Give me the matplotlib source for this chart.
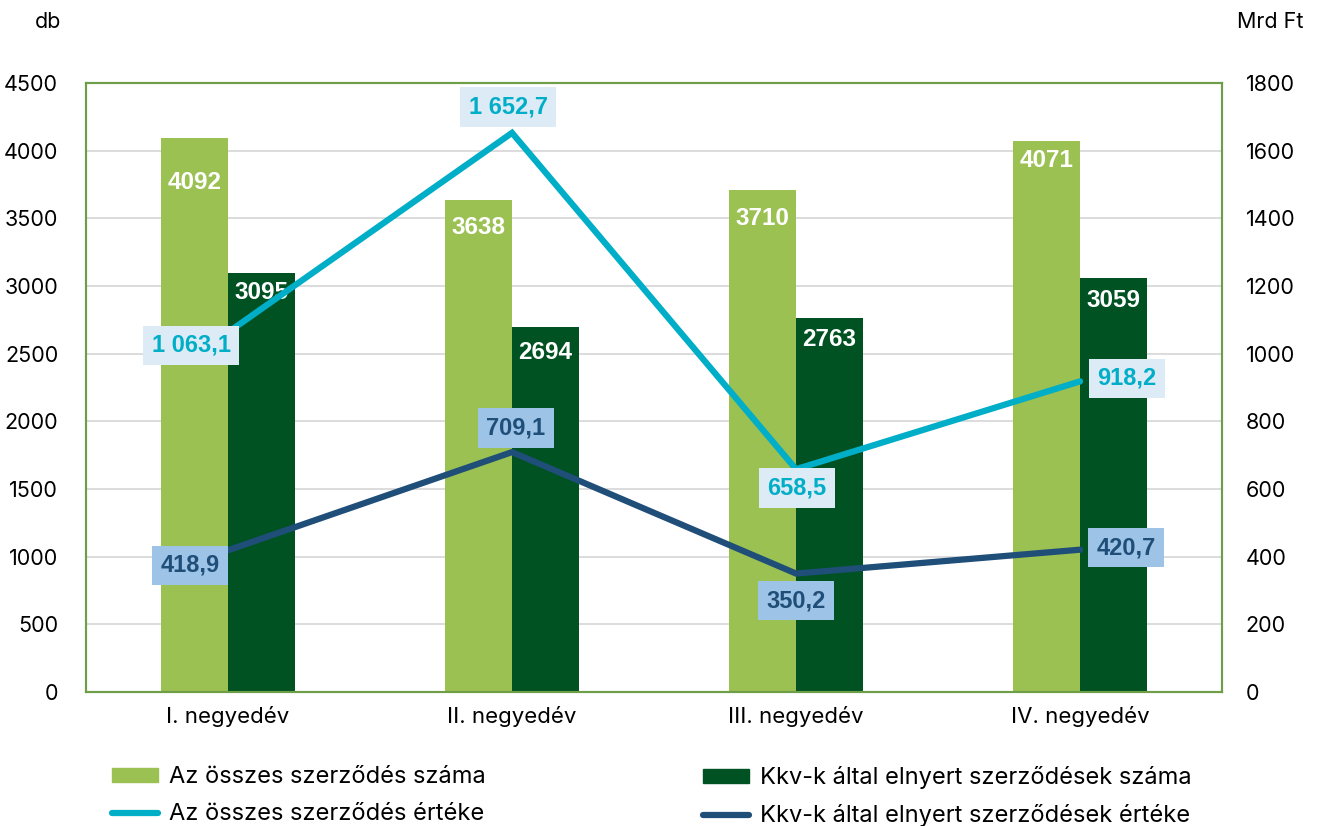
import matplotlib.pyplot as plt
from matplotlib.patches import Patch
from matplotlib.lines import Line2D

# Data
quarters = ["I. negyedév", "II. negyedév", "III. negyedév", "IV. negyedév"]
osszes_db = [4092, 3638, 3710, 4071]
kkv_db = [3095, 2694, 2763, 3059]
osszes_ertek = [1063.1, 1652.7, 658.5, 918.2]
kkv_ertek = [418.9, 709.1, 350.2, 420.7]

# Colors
LIGHT_GREEN = "#9BC152"
DARK_GREEN = "#005222"
CYAN = "#00AEC7"
NAVY = "#1F4E79"
FRAME = "#6E9E48"

plt.rcParams['font.family'] = ['Inter', 'DejaVu Sans']


def fmt(v):
    s = f"{v:,.1f}"
    return s.replace(",", " ").replace(".", ",")


fig = plt.figure(figsize=(13.19, 8.26), dpi=100)
ax = fig.add_axes([0.0652, 0.1622, 0.8613, 0.7373])
ax2 = ax.twinx()

x = [i + 0.5 for i in range(len(quarters))]
w = 0.236
b1 = ax.bar([v - w / 2 for v in x], osszes_db, w, color=LIGHT_GREEN, zorder=2)
b2 = ax.bar([v + w / 2 for v in x], kkv_db, w, color=DARK_GREEN, zorder=2)

ax.set_xlim(0, 4)
ax.set_ylim(0, 4500)
ax.set_yticks(range(0, 4501, 500))
ax.set_xticks(x)
ax.set_xticklabels(quarters)
ax.yaxis.grid(True, color="#D9D9D9", lw=1.3, zorder=0)
ax.set_axisbelow(True)

ax2.set_ylim(0, 1800)
ax2.set_yticks(range(0, 1801, 200))

for a in (ax, ax2):
    a.tick_params(length=0, labelsize=15.5, colors="black")
    for sp in a.spines.values():
        sp.set_color(FRAME)
        sp.set_linewidth(1.5)
ax.tick_params(axis="y", pad=20)
ax2.tick_params(axis="y", pad=17)
ax.tick_params(axis="x", pad=10, labelsize=16)

# bar labels
bar_off1 = [-44, -28, -29, -19]
bar_off2 = [-19, -25, -21, -22]
for bars, offs in ((b1, bar_off1), (b2, bar_off2)):
    for r, o in zip(bars, offs):
        ax.annotate(str(int(r.get_height())), (r.get_x() + r.get_width() / 2, r.get_height()),
                    xytext=(0, o * 0.72), textcoords="offset points", ha="center", va="center",
                    color="white", fontsize=17.5, fontweight="bold", family="Liberation Sans", zorder=3)

ax2.plot(x, osszes_ertek, color=CYAN, lw=4.5, solid_capstyle="round", solid_joinstyle="miter", zorder=4)
ax2.plot(x, kkv_ertek, color=NAVY, lw=4.5, solid_capstyle="round", solid_joinstyle="miter", zorder=4)

# line labels (offsets in pixels)
off_cyan = [(-37, -13), (-4, 26), (1, -19), (47, 3)]
off_navy = [(-38, -15), (4, 24), (0, -27), (46, 2)]
for vals, offs, tc, bc in ((osszes_ertek, off_cyan, CYAN, "#DDEBF7"),
                           (kkv_ertek, off_navy, NAVY, "#9DC3E6")):
    for xi, v, (dx, dy) in zip(x, vals, offs):
        ax2.annotate(fmt(v), (xi, v), xytext=(dx * 0.72, dy * 0.72), textcoords="offset points",
                     ha="center", va="center", color=tc, fontsize=17, fontweight="bold",
                     family="Liberation Sans", zorder=5,
                     bbox=dict(boxstyle="square,pad=0.35", fc=bc, ec="none"))

fig.text(48 / 1319, 1 - 22 / 826, "db", ha="center", va="center", fontsize=15.5)
fig.text(1270 / 1319, 1 - 22 / 826, "Mrd Ft", ha="center", va="center", fontsize=15.5)

# legend, two columns
h1 = [Patch(color=LIGHT_GREEN), Line2D([], [], color=CYAN, lw=4.5, solid_capstyle="round")]
h2 = [Patch(color=DARK_GREEN), Line2D([], [], color=NAVY, lw=4.5, solid_capstyle="round")]
kw = dict(loc="upper left", frameon=False, fontsize=17, handlelength=1.95, handleheight=0.55,
          handletextpad=0.45, labelspacing=0.65, borderaxespad=0, borderpad=0)
fig.legend(h1, ["Az összes szerződés száma", "Az összes szerződés értéke"],
           bbox_to_anchor=(112 / 1319, 1 - 766 / 826), **kw)
fig.legend(h2, ["Kkv-k által elnyert szerződések száma", "Kkv-k által elnyert szerződések értéke"],
           bbox_to_anchor=(703 / 1319, 1 - 766 / 826), **kw)

fig.savefig("out.png", dpi=100)
